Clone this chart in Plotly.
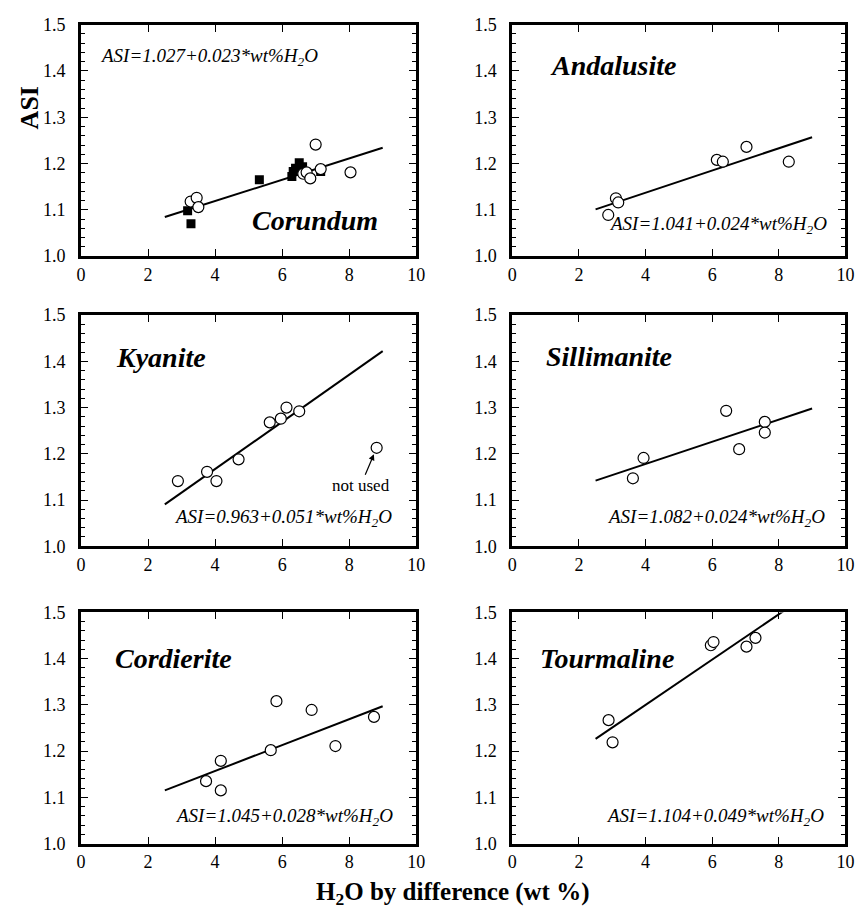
import plotly.graph_objects as go

W, H = 861, 909

# ---------------- data ----------------
minerals = ["Corundum", "Andalusite", "Kyanite", "Sillimanite", "Cordierite", "Tourmaline"]
intercepts = [1.027, 1.041, 0.963, 1.082, 1.045, 1.104]
slopes = [0.023, 0.024, 0.051, 0.024, 0.028, 0.049]
fit_x_range = [2.5, 9.0]

cor_open_x = [3.27, 3.45, 3.50, 6.63, 6.73, 6.84, 7.00, 7.15, 8.04]
cor_open_y = [1.118, 1.126, 1.106, 1.178, 1.181, 1.168, 1.241, 1.188, 1.181]
cor_fill_x = [3.18, 3.28, 5.32, 6.29, 6.33, 6.40, 6.51, 6.61, 7.15]
cor_fill_y = [1.098, 1.070, 1.165, 1.172, 1.183, 1.190, 1.202, 1.193, 1.183]

and_x = [2.88, 3.11, 3.18, 6.14, 6.32, 7.03, 8.30]
and_y = [1.089, 1.125, 1.116, 1.208, 1.204, 1.236, 1.204]

kya_x = [2.89, 3.76, 4.04, 4.70, 5.63, 5.96, 6.13, 6.51, 8.82]
kya_y = [1.141, 1.161, 1.141, 1.188, 1.268, 1.276, 1.300, 1.292, 1.213]

sil_x = [3.62, 3.94, 6.42, 6.81, 7.58, 7.58]
sil_y = [1.147, 1.191, 1.293, 1.210, 1.269, 1.246]

cord_x = [3.73, 4.17, 4.17, 5.66, 5.83, 6.88, 7.59, 8.74]
cord_y = [1.135, 1.179, 1.115, 1.202, 1.308, 1.289, 1.211, 1.274]

tour_x = [2.89, 3.01, 5.96, 6.04, 7.03, 7.30]
tour_y = [1.267, 1.219, 1.429, 1.436, 1.426, 1.445]

open_x = [cor_open_x, and_x, kya_x, sil_x, cord_x, tour_x]
open_y = [cor_open_y, and_y, kya_y, sil_y, cord_y, tour_y]

x_ticks = [0, 2, 4, 6, 8, 10]
y_ticks = [1.0, 1.1, 1.2, 1.3, 1.4, 1.5]

# ---------------- layout geometry (pixels) ----------------
cols_px = [(77.3, 418.0), (515.7, 854.3)]
rows_px = [(15.0, 251.7), (312.0, 548.3), (616.0, 852.3)]

SERIF = "Liberation Serif, Times New Roman, serif"

fig = go.Figure()
layout_axes = {}
annotations = []

# label positions per panel: (name_x, name_y, name_anchor, eq_x, eq_y, eq_anchor)
label_pos = [
    (8.93, 1.078, "right", 0.50, 1.430, "left"),
    (1.07, 1.412, "left", 9.50, 1.068, "right"),
    (0.98, 1.408, "left", 9.33, 1.062, "right"),
    (0.95, 1.410, "left", 9.45, 1.062, "right"),
    (0.95, 1.400, "left", 9.36, 1.058, "right"),
    (0.77, 1.400, "left", 9.42, 1.058, "right"),
]

for i, name in enumerate(minerals):
    r, c = divmod(i, 2)
    n = i + 1
    xa = "x" if n == 1 else f"x{n}"
    ya = "y" if n == 1 else f"y{n}"
    xl = "xaxis" if n == 1 else f"xaxis{n}"
    yl = "yaxis" if n == 1 else f"yaxis{n}"
    x0, x1 = cols_px[c]
    t, b = rows_px[r]
    common = dict(showline=True, linecolor="black", linewidth=3, mirror="ticks",
                  ticks="inside", ticklen=7, tickwidth=1.3, tickcolor="black",
                  showgrid=False, zeroline=False,
                  tickfont=dict(family=SERIF, size=18, color="black"))
    layout_axes[xl] = dict(common, domain=[x0 / W, x1 / W], range=[0, 10],
                           tickvals=x_ticks, anchor=ya, ticklabelstandoff=0)
    layout_axes[yl] = dict(common, domain=[1 - b / H, 1 - t / H], range=[1.0, 1.5],
                           tickvals=y_ticks, tickformat=".1f", anchor=xa,
                           ticklabelstandoff=9,
                           minor=dict(dtick=0.02, ticks="inside", ticklen=4,
                                      tickwidth=1, tickcolor="black", showgrid=False))

    # regression line
    lx = fit_x_range
    ly = [intercepts[i] + slopes[i] * v for v in lx]
    fig.add_trace(go.Scatter(x=lx, y=ly, mode="lines", xaxis=xa, yaxis=ya,
                             line=dict(color="black", width=2), showlegend=False,
                             hoverinfo="skip"))
    if i == 0:
        fig.add_trace(go.Scatter(x=cor_fill_x, y=cor_fill_y, mode="markers",
                                 xaxis=xa, yaxis=ya, showlegend=False,
                                 marker=dict(symbol="square", size=9, color="black",
                                             line=dict(width=0))))
    fig.add_trace(go.Scatter(x=open_x[i], y=open_y[i], mode="markers",
                             xaxis=xa, yaxis=ya, showlegend=False,
                             marker=dict(symbol="circle", size=11, color="white",
                                         line=dict(width=1.2, color="black"))))

    nx, ny, na, ex, ey, ea = label_pos[i]
    annotations.append(dict(x=nx, y=ny, xref=xa, yref=ya, xanchor=na, yanchor="middle",
                            text=f"<b><i>{name}</i></b>", showarrow=False,
                            font=dict(family=SERIF, size=28, color="black")))
    eq = f"<i>ASI={intercepts[i]:.3f}+{slopes[i]:.3f}*wt%H<sub>2</sub>O</i>"
    annotations.append(dict(x=ex, y=ey, xref=xa, yref=ya, xanchor=ea, yanchor="middle",
                            text=eq, showarrow=False,
                            font=dict(family=SERIF, size=19, color="black")))

# "not used" note in the Kyanite panel
annotations.append(dict(x=kya_x[-1], y=kya_y[-1], xref="x3", yref="y3",
                        ax=8.34, ay=1.131, axref="x3", ayref="y3",
                        text="not used", showarrow=True, arrowhead=2, arrowsize=1,
                        arrowwidth=1.2, arrowcolor="black", standoff=7,
                        font=dict(family=SERIF, size=17, color="black")))

# axis titles
annotations.append(dict(x=25 / W, y=1 - 100 / H, xref="paper", yref="paper",
                        xanchor="center", yanchor="middle",
                        text="<b>ASI</b>", textangle=-90, showarrow=False,
                        font=dict(family=SERIF, size=26, color="black")))
annotations.append(dict(x=455 / W, y=1 - 903 / H, xref="paper", yref="paper",
                        xanchor="center", yanchor="middle",
                        text="<b>H<sub>2</sub>O by difference (wt %)</b>", showarrow=False,
                        font=dict(family=SERIF, size=25, color="black")))

fig.update_layout(width=W, height=H, margin=dict(l=0, r=0, t=0, b=0),
                  paper_bgcolor="white", plot_bgcolor="white",
                  annotations=annotations, showlegend=False, **layout_axes)

fig.write_html("out.html", config={"displayModeBar": False},
               post_script="document.body.style.margin='0';")
